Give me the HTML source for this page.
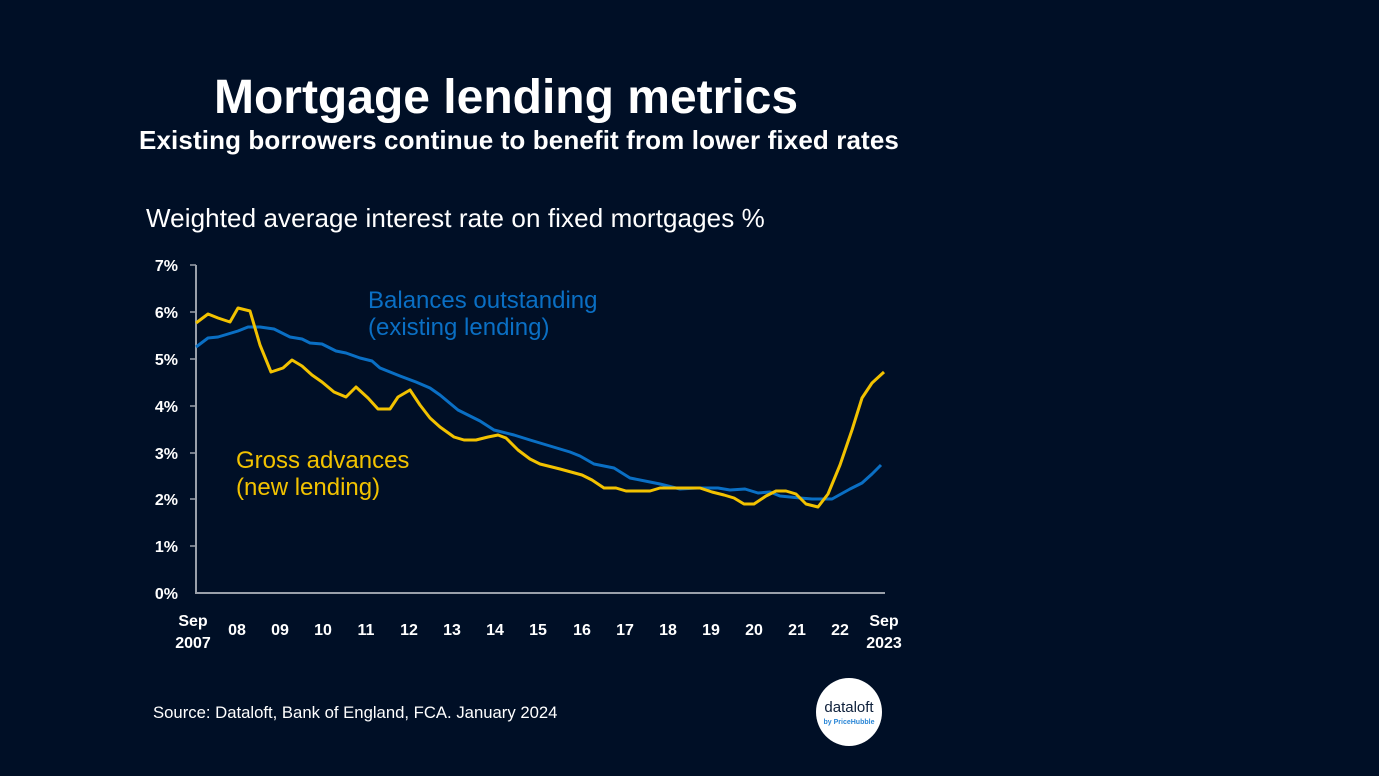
<!DOCTYPE html>
<html><head><meta charset="utf-8"><style>
html,body{margin:0;padding:0;background:#000f26;}
body{width:1379px;height:776px;overflow:hidden;position:relative;font-family:"Liberation Sans",sans-serif;color:#fff;}
.t{position:absolute;white-space:nowrap;}
</style></head><body>
<div class="t" style="left:0;width:1012px;text-align:center;top:70px;font-size:48px;font-weight:bold;">Mortgage lending metrics</div>
<div class="t" style="left:139px;top:125px;font-size:26px;font-weight:bold;letter-spacing:0.12px;">Existing borrowers continue to benefit from lower fixed rates</div>
<div class="t" style="left:146px;top:203px;font-size:26px;letter-spacing:0.1px;">Weighted average interest rate on fixed mortgages %</div>
<svg width="1379" height="776" style="position:absolute;left:0;top:0" font-family="Liberation Sans, sans-serif">
<g stroke="#9aa0aa" stroke-width="2" fill="none">
<line x1="196" y1="265" x2="196" y2="594"/>
<line x1="196" y1="593" x2="885" y2="593"/>
<g stroke-width="1.5">
<line x1="190" y1="265" x2="196" y2="265"/><line x1="190" y1="312" x2="196" y2="312"/><line x1="190" y1="359" x2="196" y2="359"/><line x1="190" y1="406" x2="196" y2="406"/><line x1="190" y1="453" x2="196" y2="453"/><line x1="190" y1="499" x2="196" y2="499"/><line x1="190" y1="546" x2="196" y2="546"/>
</g></g>
<g fill="#fff" font-size="16" font-weight="bold" text-anchor="end">
<text x="178" y="271">7%</text><text x="178" y="318">6%</text><text x="178" y="365">5%</text><text x="178" y="412">4%</text><text x="178" y="459">3%</text><text x="178" y="505">2%</text><text x="178" y="552">1%</text><text x="178" y="599">0%</text>
</g>
<g fill="#fff" font-size="16" font-weight="bold" text-anchor="middle">
<text x="193" y="626">Sep</text><text x="193" y="648">2007</text>
<text x="237" y="635">08</text><text x="280" y="635">09</text><text x="323" y="635">10</text><text x="366" y="635">11</text><text x="409" y="635">12</text><text x="452" y="635">13</text><text x="495" y="635">14</text><text x="538" y="635">15</text><text x="582" y="635">16</text><text x="625" y="635">17</text><text x="668" y="635">18</text><text x="711" y="635">19</text><text x="754" y="635">20</text><text x="797" y="635">21</text><text x="840" y="635">22</text>
<text x="884" y="626">Sep</text><text x="884" y="648">2023</text>
</g>
<polyline fill="none" stroke="#0a6fc4" stroke-width="3" stroke-linejoin="round" points="196,347 208,338 218,337 238,331 248,327 260,327 274,329 290,337 302,339 310,343 322,344 336,351 346,353 360,358 372,361 380,368 400,376 416,382 430,388 440,395 458,410 480,421 494,430 514,435 530,440 550,446 570,452 580,456 594,464 614,468 630,478 650,482 660,484 680,489 697,488 718,488 730,490 745,489 758,493 770,492 780,496 800,498 812,499 832,499 850,489 862,483 872,474 881,465"/>
<polyline fill="none" stroke="#f2c200" stroke-width="3" stroke-linejoin="round" points="196,323 208,314 218,318 230,322 238,308 250,311 260,345 271,372 283,368 292,360 302,366 312,375 322,382 334,392 346,397 356,387 368,398 378,409 390,409 398,397 410,390 420,405 430,418 440,427 454,437 464,440 476,440 488,437 498,435 506,438 518,450 530,459 540,464 560,469 582,475 592,480 604,488 616,488 626,491 650,491 660,488 690,488 700,488 712,492 724,495 734,498 744,504 754,504 766,496 776,491 786,491 796,494 806,504 818,507 828,494 840,465 852,430 862,398 872,383 884,372"/>
<g font-size="24" fill="#0a6fc4"><text x="368" y="308">Balances outstanding</text><text x="368" y="335">(existing lending)</text></g>
<g font-size="24" fill="#f2c200"><text x="236" y="468">Gross advances</text><text x="236" y="495">(new lending)</text></g>
<text x="153" y="718" font-size="16.7" fill="#fff">Source: Dataloft, Bank of England, FCA. January 2024</text>
<ellipse cx="849" cy="712" rx="33" ry="34" fill="#fff"/>
<text x="849" y="712" font-size="15" fill="#0d1f3a" text-anchor="middle">dataloft</text>
<text x="849" y="724" font-size="7" font-weight="bold" fill="#2a86d6" text-anchor="middle">by PriceHubble</text>
</svg>
</body></html>
